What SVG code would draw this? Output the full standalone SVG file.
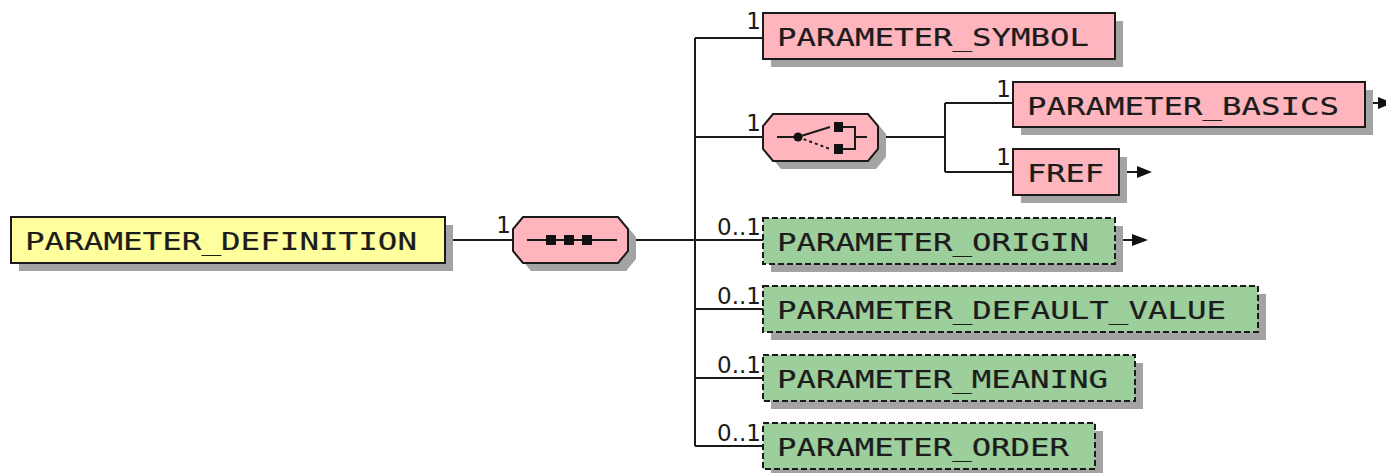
<svg xmlns="http://www.w3.org/2000/svg" width="1386" height="473" viewBox="0 0 1386 473">
<defs>
<style>
.shadow{fill:#a3a3a3;stroke:none}
.yel{fill:#ffff9e;stroke:#1a1a1a;stroke-width:2}
.pink{fill:#ffb5be;stroke:#1a1a1a;stroke-width:2}
.green{fill:#9ccf9c;stroke:#1a1a1a;stroke-width:2;stroke-dasharray:6,3}
.lbl{font-family:"DejaVu Sans Mono",monospace;font-size:25px;fill:#1c1c1c;stroke:#1c1c1c;stroke-width:0.2}
.card{font-family:"DejaVu Sans","Liberation Sans",sans-serif;font-size:23px;fill:#1c1c1c;text-anchor:end}
.ln{stroke:#1a1a1a;stroke-width:2;fill:none}
.ah{fill:#111;stroke:none}
</style>
</defs>
<rect width="1386" height="473" fill="#ffffff"/>

<g id="connectors">
<path class="ln" d="M445,240 H513"/>
<path class="ln" d="M628,240 H695 M695,38 V446 M695,38 H763 M695,137 H763 M695,240 H763 M695,309 H763 M695,378 H763 M695,446 H763"/>
<path class="ln" d="M878,137 H945 M945,103 V172 M945,103 H1013 M945,172 H1013"/>
<path class="ln" d="M1365,103 H1379"/>
<polygon class="ah" points="1378,97 1393,103 1378,109"/>
<path class="ln" d="M1119,172 H1138"/>
<polygon class="ah" points="1137,166 1152,172 1137,178"/>
<path class="ln" d="M1115,240 H1133"/>
<polygon class="ah" points="1132,234 1148,240 1132,246"/>
<text class="card" x="511" y="233">1</text>
<text class="card" x="761" y="29">1</text>
<text class="card" x="761" y="131">1</text>
<text class="card" x="1011" y="97">1</text>
<text class="card" x="1011" y="165">1</text>
<text class="card" x="761" y="235">0..1</text>
<text class="card" x="761" y="304">0..1</text>
<text class="card" x="761" y="373">0..1</text>
<text class="card" x="761" y="441">0..1</text>
</g>

<g id="parameter_definition">
<rect class="shadow" x="19" y="225" width="434" height="46"/>
<rect class="yel" x="11" y="217" width="434" height="46"/>
<text class="lbl" x="25" y="250" textLength="392" lengthAdjust="spacingAndGlyphs">PARAMETER_DEFINITION</text>
</g>

<g id="sequence">
<polygon class="shadow" points="531,225 626,225 636,237 636,259 626,271 531,271 521,259 521,237"/>
<polygon class="pink" points="523,217 618,217 628,229 628,251 618,263 523,263 513,251 513,229"/>
<path class="ln" d="M527,240 H617"/>
<rect x="546" y="235" width="10" height="10" fill="#111"/>
<rect x="564" y="235" width="10" height="10" fill="#111"/>
<rect x="582" y="235" width="10" height="10" fill="#111"/>
</g>

<g id="parameter_symbol">
<rect class="shadow" x="771" y="21" width="352" height="46"/>
<rect class="pink" x="763" y="13" width="352" height="46"/>
<text class="lbl" x="777" y="46" textLength="312" lengthAdjust="spacingAndGlyphs">PARAMETER_SYMBOL</text>
</g>

<g id="choice">
<polygon class="shadow" points="781,122 876,122 886,134 886,157 876,169 781,169 771,157 771,134"/>
<polygon class="pink" points="773,114 868,114 878,126 878,149 868,161 773,161 763,149 763,126"/>
<path class="ln" d="M777,137 H798 L830,127"/>
<path class="ln" d="M798,137 L830,149" stroke-dasharray="3,3"/>
<circle cx="798" cy="137" r="4.5" fill="#111"/>
<rect x="834" y="122" width="9" height="10" fill="#111"/>
<rect x="834" y="144" width="9" height="10" fill="#111"/>
<path class="ln" d="M843,127 H855 V149 H843 M855,137 H867"/>
</g>

<g id="parameter_basics">
<rect class="shadow" x="1021" y="90" width="352" height="45"/>
<rect class="pink" x="1013" y="82" width="352" height="45"/>
<text class="lbl" x="1027" y="115" textLength="312" lengthAdjust="spacingAndGlyphs">PARAMETER_BASICS</text>
</g>

<g id="fref">
<rect class="shadow" x="1021" y="157" width="106" height="46"/>
<rect class="pink" x="1013" y="149" width="106" height="46"/>
<text class="lbl" x="1027" y="182" textLength="77" lengthAdjust="spacingAndGlyphs">FREF</text>
</g>

<g id="parameter_origin">
<rect class="shadow" x="771" y="226" width="352" height="46"/>
<rect class="green" x="763" y="218" width="352" height="46"/>
<text class="lbl" x="777" y="251" textLength="312" lengthAdjust="spacingAndGlyphs">PARAMETER_ORIGIN</text>
</g>

<g id="parameter_default_value">
<rect class="shadow" x="771" y="294" width="495" height="46"/>
<rect class="green" x="763" y="286" width="495" height="46"/>
<text class="lbl" x="777" y="319" textLength="449" lengthAdjust="spacingAndGlyphs">PARAMETER_DEFAULT_VALUE</text>
</g>

<g id="parameter_meaning">
<rect class="shadow" x="771" y="363" width="372" height="46"/>
<rect class="green" x="763" y="355" width="372" height="46"/>
<text class="lbl" x="777" y="388" textLength="331" lengthAdjust="spacingAndGlyphs">PARAMETER_MEANING</text>
</g>

<g id="parameter_order">
<rect class="shadow" x="771" y="431" width="332" height="46"/>
<rect class="green" x="763" y="423" width="332" height="46"/>
<text class="lbl" x="777" y="456" textLength="292" lengthAdjust="spacingAndGlyphs">PARAMETER_ORDER</text>
</g>
</svg>
